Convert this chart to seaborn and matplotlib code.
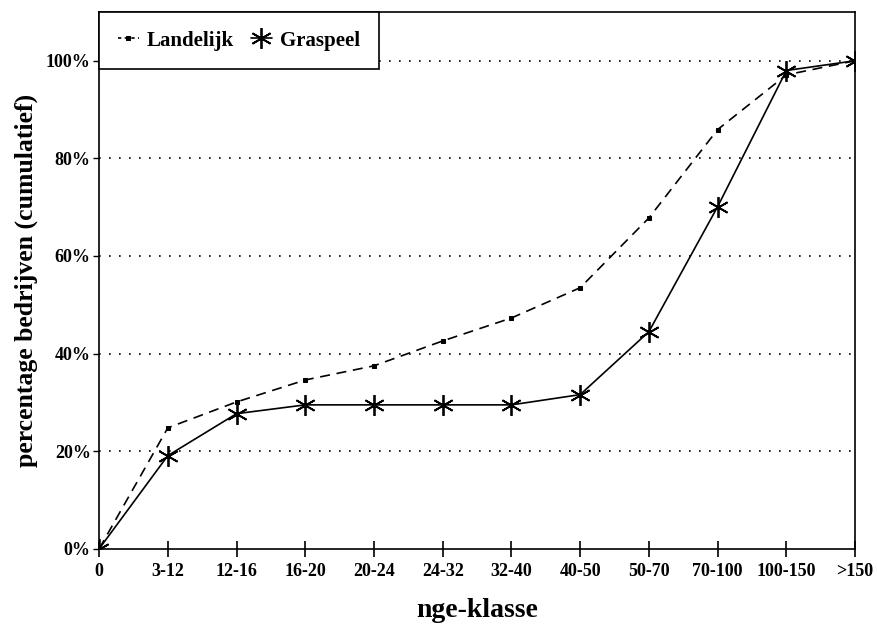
import pandas as pd
import matplotlib.pyplot as plt
import seaborn as sns

klassen = ["0", "3-12", "12-16", "16-20", "20-24", "24-32", "32-40",
           "40-50", "50-70", "70-100", "100-150", ">150"]
landelijk = [0, 24.8, 30.1, 34.6, 37.5, 42.6, 47.3, 53.5, 67.8, 85.9, 97.1, 100]
graspeel = [0, 19.1, 27.7, 29.5, 29.5, 29.5, 29.5, 31.6, 44.5, 70.1, 98.0, 100]

df = pd.DataFrame({"klasse": klassen, "Landelijk": landelijk, "Graspeel": graspeel})
df["pos"] = range(len(klassen))

sns.set_theme(style="white")
plt.rcParams["font.family"] = ["Liberation Serif", "DejaVu Serif"]
plt.rcParams["font.weight"] = "bold"
for k in ["text.color", "axes.labelcolor", "xtick.color", "ytick.color"]:
    plt.rcParams[k] = "black"

fig = plt.figure(figsize=(8.77, 6.28), dpi=100)
ax = fig.add_axes([0.113, 0.126, 0.862, 0.855])

sns.lineplot(data=df, x="pos", y="Landelijk", ax=ax, color="black",
             linestyle=(0, (6, 4)), linewidth=1.2, marker="s", markersize=3.5,
             markeredgecolor="black", label="Landelijk")
sns.lineplot(data=df, x="pos", y="Graspeel", ax=ax, color="black",
             linewidth=1.2, marker=(6, 2, 0), markersize=15,
             markeredgecolor="black", markeredgewidth=1.3, label="Graspeel")

ax.set_xlim(0, len(klassen) - 1)
ax.set_ylim(0, 110)
ax.set_xticks(df["pos"])
ax.set_xticklabels(klassen, fontsize=13, fontweight="bold")
ax.set_yticks(range(0, 101, 20))
ax.set_yticklabels([f"{v}%" for v in range(0, 101, 20)], fontsize=13, fontweight="bold")
ax.tick_params(axis="x", bottom=True, direction="inout", length=12, width=1.2, pad=4)
ax.tick_params(axis="y", left=True, direction="out", length=4, width=1, pad=2)

for v in range(20, 101, 20):
    ax.axhline(v, color="black", linestyle=(0, (1, 5)), linewidth=1.2, zorder=0)

for s in ax.spines.values():
    s.set_color("black")
    s.set_linewidth(1.2)

ax.set_xlabel("nge-klasse", fontsize=20, fontweight="bold", labelpad=13)
ax.set_ylabel("percentage bedrijven (cumulatief)", fontsize=18.5, fontweight="bold", labelpad=6)

leg = ax.legend(loc="upper left", ncol=2, frameon=True, fancybox=False,
                edgecolor="black", framealpha=1, borderaxespad=0, handlelength=1.0,
                handletextpad=0.4, columnspacing=0.8, borderpad=0.9,
                prop={"weight": "bold", "size": 15})
leg.get_frame().set_linewidth(1.2)
leg.legend_handles[0].set_linestyle((0, (2, 2)))

fig.savefig("out.png", dpi=100)
